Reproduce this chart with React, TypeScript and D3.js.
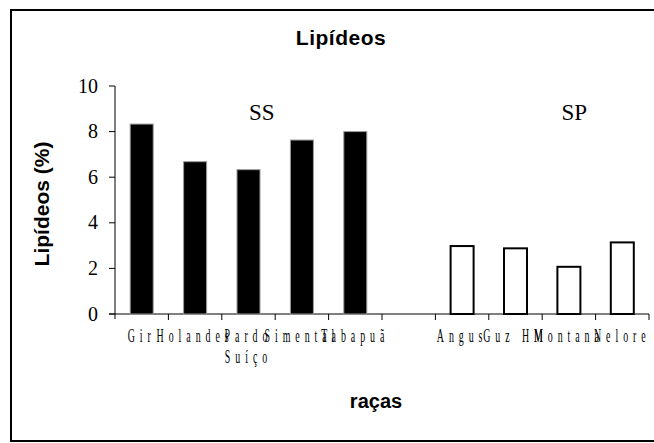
import React from 'react';
import * as d3 from 'd3';

const categories: string[] = ['Gir', 'Holandes', 'Pardo\nSuíço', 'Simental', 'Tabapuã', '', 'Angus', 'Guz HM', 'Montana', 'Nelore'];
const lipideos: (number | null)[] = [8.33, 6.68, 6.33, 7.63, 8.0, null, 2.98, 2.88, 2.07, 3.14];
const grupo: string[] = ['SS', 'SS', 'SS', 'SS', 'SS', '', 'SP', 'SP', 'SP', 'SP'];
const yTicks: number[] = [0, 2, 4, 6, 8, 10];
const groupLabels: { label: string; at: number }[] = [
  { label: 'SS', at: 2.75 },
  { label: 'SP', at: 8.6 },
];

export default function App() {
  const W = 654, H = 443;
  const x = d3.scaleBand<number>().domain(d3.range(categories.length)).range([115, 649]).padding(0);
  const y = d3.scaleLinear().domain([0, 10]).range([314, 86]);
  const step = x.step();
  const barW = 23;
  const serif = '"Liberation Serif", "Times New Roman", serif';
  const sans = '"Liberation Sans", Arial, sans-serif';

  return (
    <svg width={W} height={H} style={{ position: 'absolute', left: 0, top: 0, background: '#fff' }}>
      <rect x={11} y={10} width={660} height={431} fill="#fff" stroke="#000" strokeWidth={2} />
      <text x={341} y={45} textAnchor="middle" fontFamily={sans} fontWeight="bold" fontSize={21} letterSpacing={0.5}>Lipídeos</text>
      <text transform="translate(49,204) rotate(-90)" textAnchor="middle" fontFamily={sans} fontWeight="bold" fontSize={21}>Lipídeos (%)</text>
      <text x={376} y={408} textAnchor="middle" fontFamily={sans} fontWeight="bold" fontSize={20}>raças</text>

      {/* y axis */}
      <line x1={115} x2={115} y1={y(10)} y2={319} stroke="#000" strokeWidth={1} />
      {yTicks.map((t) => (
        <g key={t}>
          <line x1={109} x2={115} y1={y(t)} y2={y(t)} stroke="#000" strokeWidth={1} />
          <text x={98} y={y(t) + 6.5} textAnchor="end" fontFamily={serif} fontSize={20}>{t}</text>
        </g>
      ))}
      {/* x axis */}
      <line x1={109} x2={649} y1={y(0)} y2={y(0)} stroke="#000" strokeWidth={1} />
      {d3.range(1, categories.length + 1).map((k) => (
        <line key={k} x1={115 + k * step} x2={115 + k * step} y1={y(0)} y2={y(0) + 6} stroke="#000" strokeWidth={1} />
      ))}

      {/* bars */}
      {lipideos.map((v, i) => {
        if (v == null) return null;
        const cx = (x(i) as number) + step / 2;
        const isSS = grupo[i] === 'SS';
        return (
          <rect key={i} x={cx - barW / 2} y={y(v)} width={barW} height={y(0) - y(v)}
            fill={isSS ? '#000' : '#fff'} stroke={isSS ? '#999' : '#000'} strokeWidth={isSS ? 1 : 2} />
        );
      })}

      {/* category labels */}
      {categories.map((c, i) => {
        const cx = (x(i) as number) + step / 2;
        return c.split('\n').map((line, j) => (
          <text key={i + '-' + j} transform={`translate(${cx},${342 + j * 21}) scale(0.55,1)`} textAnchor="middle"
            fontFamily={serif} fontSize={18} letterSpacing={9}>{line}</text>
        ));
      })}

      {groupLabels.map((g) => (
        <text key={g.label} x={115 + g.at * step} y={120} textAnchor="middle" fontFamily={serif} fontSize={23}>{g.label}</text>
      ))}
    </svg>
  );
}
